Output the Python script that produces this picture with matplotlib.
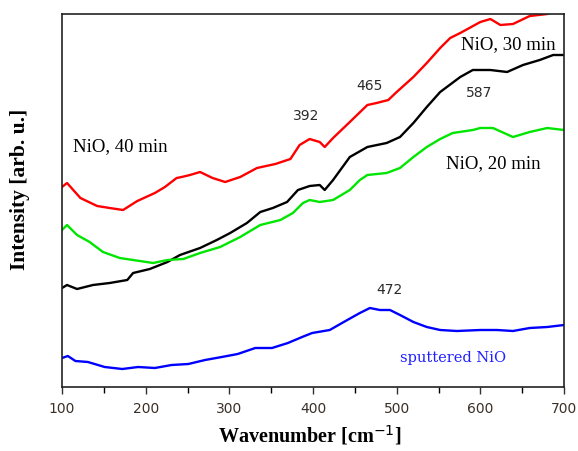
import numpy as np
import matplotlib
matplotlib.use("Agg")
import matplotlib.pyplot as plt
from matplotlib.ticker import MultipleLocator

# Raman spectra (wavenumber in cm^-1, intensity in arb. u.)
wn_red = [100, 106, 122, 142, 157, 173, 190, 211, 223, 237, 243, 253, 265, 280, 295,
          313, 333, 355, 373, 384, 396, 408, 414, 424, 444, 465, 476, 490, 500, 520,
          536, 552, 564, 576, 600, 612, 624, 639, 659, 680, 690, 700]
i_red = [200, 204, 189, 181, 179, 177, 186, 194, 200, 209, 210, 212, 215, 209, 205,
         210, 219, 223, 228, 242, 248, 245, 240, 249, 265, 282, 284, 287, 295, 310,
         324, 339, 349, 354, 365, 368, 362, 363, 371, 373, 377, 381]

wn_black = [100, 106, 118, 137, 157, 178, 185, 205, 226, 241, 265, 285, 301, 321, 337,
            352, 369, 382, 396, 408, 414, 424, 444, 465, 488, 504, 520, 536, 552, 560,
            576, 591, 612, 632, 651, 671, 687, 700]
i_black = [99, 102, 98, 102, 104, 107, 114, 118, 125, 132, 139, 147, 154, 164, 175,
           179, 185, 197, 201, 202, 197, 207, 230, 240, 244, 250, 264, 280, 295, 300,
           310, 317, 317, 315, 322, 327, 332, 332]

wn_green = [100, 106, 118, 133, 149, 169, 185, 209, 226, 245, 265, 289, 313, 337, 361,
            376, 388, 396, 408, 424, 444, 456, 465, 488, 504, 520, 536, 552, 567, 591,
            600, 615, 639, 659, 680, 700]
i_green = [157, 162, 152, 145, 135, 129, 127, 124, 127, 128, 134, 140, 150, 162, 167,
           174, 184, 187, 185, 187, 197, 207, 212, 214, 219, 230, 240, 248, 254, 257,
           259, 259, 250, 255, 259, 257]

wn_blue = [100, 107, 116, 131, 151, 172, 191, 211, 231, 251, 271, 291, 310, 331, 351,
           370, 387, 399, 420, 441, 456, 468, 480, 492, 504, 520, 536, 552, 572, 600,
           620, 639, 659, 680, 700]
i_blue = [29, 31, 26, 25, 20, 18, 20, 19, 22, 23, 27, 30, 33, 39, 39,
          44, 50, 54, 57, 67, 74, 79, 77, 77, 72, 65, 60, 57, 56, 57,
          57, 56, 59, 60, 62]

fig = plt.figure(figsize=(5.78, 4.51), dpi=100)
ax = fig.add_axes([62 / 578, 1 - 387 / 451, 502 / 578, 373 / 451])

lw = 1.7
ax.plot(wn_red, i_red, color="#ff0000", lw=lw)
ax.plot(wn_black, i_black, color="black", lw=lw)
ax.plot(wn_green, i_green, color="#00e600", lw=lw)
ax.plot(wn_blue, i_blue, color="#0000ff", lw=lw)

ax.set_xlim(100, 700)
ax.set_ylim(0, 373)
ax.xaxis.set_major_locator(MultipleLocator(100))
ax.xaxis.set_minor_locator(MultipleLocator(50))
ax.set_yticks([])
ax.tick_params(axis="x", which="major", direction="out", length=5, width=1,
               labelsize=10, colors="#3a3028", pad=6)
ax.tick_params(axis="x", which="minor", direction="out", length=4, width=1)
for s in ax.spines.values():
    s.set_linewidth(1.2)
    s.set_color("#222222")

serif = "Liberation Serif"
ax.set_xlabel("Wavenumber [cm$^{-1}$]", fontsize=14.5, fontweight="bold", family=serif)
ax.set_ylabel("Intensity [arb. u.]", fontsize=15.5, fontweight="bold", family=serif)
ax.xaxis.set_label_coords(0.494, -0.097)
ax.yaxis.set_label_coords(-0.063, 0.53)

# annotations (positions in data coords)
ax.text(113, 240, "NiO, 40 min", fontsize=13.5, family=serif, ha="left", va="center")
ax.text(577, 342, "NiO, 30 min", fontsize=13.5, family=serif, ha="left", va="center")
ax.text(559, 223, "NiO, 20 min", fontsize=13.5, family=serif, ha="left", va="center")
ax.text(392, 271, "392", fontsize=10, ha="center", va="center", color="#2a2a2a")
ax.text(467, 301, "465", fontsize=10, ha="center", va="center", color="#2a2a2a")
ax.text(598, 294, "587", fontsize=10, ha="center", va="center", color="#2a2a2a")
ax.text(491, 97, "472", fontsize=10, ha="center", va="center", color="#2a2a2a")
ax.text(568, 29, "sputtered NiO", fontsize=10.5, ha="center", va="center",
        color="#2020ff", family="DejaVu Serif")

fig.savefig("out.png", dpi=100)
